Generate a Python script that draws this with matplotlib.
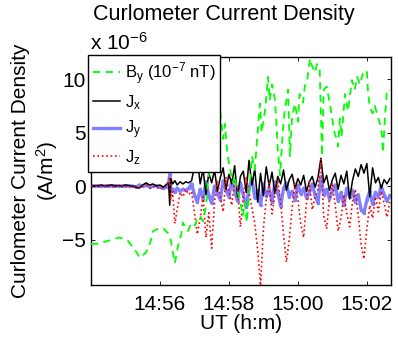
import matplotlib
matplotlib.use('Agg')
import matplotlib.pyplot as plt
import numpy as np

plt.rcParams['font.family'] = ['Liberation Sans', 'DejaVu Sans']
plt.rcParams['mathtext.fontset'] = 'custom'
plt.rcParams['mathtext.rm'] = 'Liberation Sans'
plt.rcParams['mathtext.it'] = 'Liberation Sans:italic'
plt.rcParams['mathtext.default'] = 'regular'

# seconds after 14:54:00
t_by = [0, 12, 24, 37, 50, 64, 77, 85, 96, 103, 108, 117, 125, 134, 139, 143, 146, 151, 157, 160,
        165, 169, 174, 181, 186, 190, 195, 198, 202, 203, 209, 214, 219, 224, 230, 233, 237, 242, 247, 250,
        254, 259, 264, 268, 271, 275, 280, 285, 289, 294, 297, 303, 308, 311, 315, 320, 323, 325, 329, 334,
        337, 343, 346, 350, 355, 360, 363, 369, 372, 377, 381, 384, 390, 393, 398, 402, 405, 410, 416, 419,
        424, 428, 430, 433, 436, 442, 447, 454, 459, 463, 468, 473, 476, 480, 482, 485, 490, 494, 499, 503,
        506, 508, 511, 515, 520]
by_vals = [-5.4, -5.4, -5.2, -5.0, -4.8, -5.1, -6.0, -6.7, -6.2, -5.3, -4.2, -4.0, -3.9, -4.4, -5.1, -6.4, -7.2, -5.7, -4.5, -3.4,
           -4.0, -4.2, -3.5, -3.7, -2.9, -2.8, -3.3, -2.5, -1.0, 0.3, 2.5, 4.8, 6.5, 7.4, 4.4, 5.8, 3.1, 1.6, 0.3, 1.0,
           -0.3, -1.2, -2.8, -1.5, -3.4, -1.0, 2.8, 1.5, 4.4, 7.7, 5.0, 7.1, 10.2, 8.0, 9.5, 8.1, 5.5, 3.4, 1.0, 5.3,
           7.0, 9.0, 2.8, 6.5, 7.7, 6.0, 8.6, 7.8, 9.3, 10.2, 11.9, 11.3, 10.6, 11.4, 10.8, 2.8, 9.0, 9.3, 7.6, 6.5,
           4.9, 4.4, 3.7, 6.3, 4.6, 8.6, 7.0, 9.9, 9.0, 10.2, 9.5, 10.5, 10.6, 10.8, 8.8, 7.4, 6.8, 7.5, 6.5, 5.8,
           4.9, 3.1, 6.0, 9.0, 9.0]

t_j = [0, 6, 12, 18, 24, 30, 36, 42, 48, 54, 60, 66, 72, 78, 84, 90, 96, 102, 108, 114,
       120, 126, 132, 135, 137, 139, 142, 146, 150, 155, 160, 165, 170,
       175, 180, 185, 190, 195, 200, 205, 210, 215, 220, 225, 230, 235, 240, 245, 250, 255, 260,
       265, 270, 275, 280, 285, 290, 295, 300, 305, 310, 315, 320, 325, 330, 335, 340, 345, 350,
       355, 360, 365, 370, 375, 380, 385, 390, 395, 400, 405, 410, 415, 420, 425, 430, 435, 440,
       445, 450, 455, 460, 465, 470, 475, 480, 485, 490, 495, 500, 505, 510, 515, 520]
jx_vals = [0.0, 0.05, 0.0, 0.1, 0.0, 0.05, 0.1, 0.0, 0.05, 0.0, 0.1, 0.05, 0.0, -0.1, -0.2, 0.1, 0.3, 0.1, 0.2, 0.0,
           0.1, -0.1, 0.2, 0.3, -1.8, 0.7, 0.2, 0.5, 0.1, 0.4, 0.2, 0.4, 0.3,
           0.5, 1.8, 2.5, 0.2, 1.6, -0.8, 1.2, 0.3, 1.5, -0.5, 0.8, 1.7, -0.3, 1.1, 0.2, 1.9, -1.0, 0.9,
           1.4, -0.6, 2.4, 0.1, 1.6, -1.5, 1.2, -0.9, 1.8, 0.0, 1.3, -0.7, 0.9, 0.2, 1.5, -0.4, 0.6, 1.1,
           -0.2, 0.7, 0.1, 1.0, -0.5, 0.4, 0.9, -0.1, 0.8, 2.6, 0.3, 1.0, -0.4, 0.6, 1.2, -0.3, 1.0, 0.2,
           1.4, -1.2, 0.5, 1.6, 0.9, 2.0, 1.2, 2.1, -1.0, 1.7, 0.3, 0.8, -0.2, 0.6, 0.2, 0.7]
jy_vals = [0.0, 0.0, 0.05, 0.0, 0.0, 0.05, 0.0, 0.05, 0.0, 0.0, 0.05, 0.0, 0.0, -0.1, 0.1, 0.0, 0.1, -0.1, 0.0, 0.05,
           -0.1, -0.2, -0.1, 0.2, 1.1, -0.5, -0.3, -0.6, -0.2, -0.5, -0.3, -0.4, -0.2,
           0.2, -0.8, -1.5, -0.3, -1.2, 0.4, -0.9, -1.6, 0.0, -0.7, -1.3, 0.5, -0.4, -1.0, 0.6, -0.5, -1.4, 0.3,
           -0.8, -2.0, -0.2, 0.7, -1.1, -0.4, -1.8, 0.2, -0.9, -0.3, -1.5, 0.4, -0.6, -1.9, -0.2, 0.3, -1.0, -0.5,
           -1.3, 0.1, -0.7, -0.2, -1.1, -0.6, 0.2, -0.9, -1.6, 0.9, -0.8, -0.3, -1.2, -0.5, 0.1, -1.4, -0.6, -1.8,
           -0.2, -1.0, -0.4, -1.5, -0.8, -2.2, -2.5, -1.3, -0.5, -1.7, -0.6, -1.0, 0.0, -0.8, -1.4, -0.9]
jz_vals = [0.0, -0.05, 0.0, 0.0, 0.05, 0.0, -0.1, 0.0, 0.0, 0.05, 0.0, -0.1, 0.0, 0.0, -0.2, 0.0, 0.1, -0.2, 0.0, -0.1,
           -0.3, -0.1, 0.0, 0.5, 0.8, -1.2, -0.5, -3.5, -2.2, -0.6, -1.0, -0.3, -0.8,
           -0.5, -2.5, -4.5, -3.0, -1.0, -4.8, -2.5, -5.8, -1.5, 0.5, -1.0, -2.4, 0.8, -0.5, -1.8, 0.6, -0.3, -3.8,
           -1.0, 0.9, -0.6, -2.0, -3.5, -6.0, -9.3, -4.0, -1.2, 0.3, -2.6, -0.8, 0.5, -1.5, -4.5, -7.1, -5.0, -2.0,
           0.2, -1.2, -3.5, -4.8, -1.5, 0.4, -2.2, -1.0, -0.3, 2.5, -2.8, -4.0, -1.2, 0.3, -1.8, -4.2, -3.0, -0.8,
           -2.5, -3.8, -1.5, -0.3, -2.7, -5.5, -6.8, -4.0, -1.8, -3.0, -1.0, -2.4, -0.5, -1.6, -2.9, -1.5]

tick_min = [2, 4, 6, 8]
tick_labels = ['14:56', '14:58', '15:00', '15:02']

fig = plt.figure(figsize=(3.98, 3.41), dpi=100)
ax = fig.add_axes([0.2286, 0.164, 0.7538, 0.6686])

tby = np.array(t_by) / 60.0
tj = np.array(t_j) / 60.0

ax.plot(tj, jy_vals, '.-', color='#8080ff', lw=2.4, ms=3, zorder=1, label='J$_y$')
ax.plot(tj, jx_vals, '-', color='black', lw=1.1, zorder=2, label='J$_x$')
ax.plot(tj, jz_vals, ':', color='red', lw=1.2, zorder=3, label='J$_z$')
ax.plot(tby, by_vals, '--', color='#00ff00', lw=1.3, dashes=(4, 3), zorder=4,
        label='B$_y$ (10$^{-7}$ nT)')

ax.set_xlim(0, 8.7)
ax.set_ylim(-9.25, 12.05)
ax.set_xticks(tick_min)
ax.set_xticklabels(tick_labels)
ax.set_yticks([-5, 0, 5, 10])
ax.set_yticklabels(['\u22125', '0', '5', '10'])
ax.tick_params(direction='in', top=True, right=True, length=3, width=0.6,
               labelsize=15, pad=4)
ax.tick_params(axis='x', pad=7)
for s in ax.spines.values():
    s.set_linewidth(1.0)

ax.set_xlabel('UT (h:m)', fontsize=15, labelpad=0)
fig.text(0.09, 0.4985, 'Curlometer Current Density\n(A/m$^2$)', rotation=90,
         ha='center', va='center', multialignment='center', fontsize=15)
fig.text(0.563, 0.941, 'Curlometer Current Density', ha='center', va='baseline', fontsize=15.5)
fig.text(90 / 398, 1 - 50 / 341, 'x 10$^{-6}$', ha='left', va='baseline', fontsize=15)

h, l = ax.get_legend_handles_labels()
order = [3, 1, 0, 2]
leg = ax.legend([h[i] for i in order], [l[i] for i in order], loc='upper left',
                bbox_to_anchor=(-0.01, 1.009), borderaxespad=0, fontsize=12,
                fancybox=False, framealpha=1, edgecolor='black', handlelength=1.6,
                handletextpad=0.3, labelspacing=0.4, borderpad=0.3)
leg.get_frame().set_linewidth(1.0)
leg.set_zorder(10)

fig.savefig('out.png', dpi=100)
